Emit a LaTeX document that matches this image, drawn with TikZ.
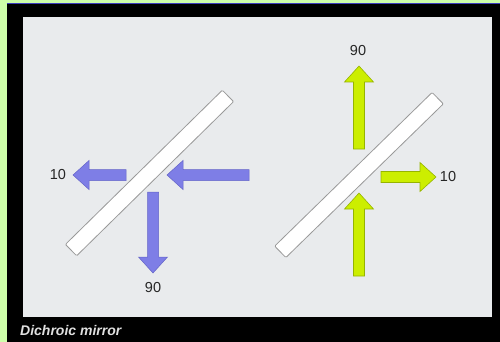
\documentclass[tikz,border=0pt]{standalone}
\usepackage{fontspec}
\setmainfont{Liberation Sans}
\usetikzlibrary{positioning}
\definecolor{framegreen}{RGB}{206,255,170}
\definecolor{topblue}{RGB}{60,60,190}
\definecolor{panelgray}{RGB}{233,235,237}
\definecolor{beamblue}{RGB}{126,126,230}
\definecolor{beamblueline}{RGB}{100,100,200}
\definecolor{beamgreen}{RGB}{204,238,0}
\definecolor{beamgreenline}{RGB}{150,180,0}
\newcommand{\fatarrow}[4]{% style, tail, angle, length
  \begin{scope}[shift={#2}, rotate=#3]
    \draw[#1] (0,-5.5) -- ({#4-16},-5.5) -- ({#4-16},-14.5) -- (#4,0)
      -- ({#4-16},14.5) -- ({#4-16},5.5) -- (0,5.5) -- cycle;
  \end{scope}}
\begin{document}
\begin{tikzpicture}[
    x=1pt, y=-1pt,
    mirror/.style={draw=gray!80, fill=white, line width=0.8pt, rectangle,
      rounded corners=1pt, minimum width=220pt, minimum height=16pt, inner sep=0pt},
    bluebeam/.style={fill=beamblue, draw=beamblueline, line width=0.5pt},
    greenbeam/.style={fill=beamgreen, draw=beamgreenline, line width=0.6pt},
    lbl/.style={font=\fontsize{14.5}{14.5}\selectfont, text=black!85, inner sep=1pt}
  ]
  \useasboundingbox (0,0) rectangle (500,342);
  % frame and panel
  \fill[framegreen] (0,0) rectangle (500,342);
  \fill[topblue] (7,3) rectangle (500,4.5);
  \fill[black] (7,4.5) rectangle (500,342);
  \fill[panelgray] (22.5,17) rectangle (492,317);
  \node[anchor=base west, inner sep=0pt, text=white!88!black,
    font=\fontsize{14}{14}\selectfont\bfseries\itshape] (caption) at (20,335) {Dichroic mirror};

  % left mirror
  \node[mirror, rotate=44.5] (mirrorL) at (149.5,173) {};
  \fatarrow{bluebeam}{(249,175)}{180}{82}
  \fatarrow{bluebeam}{(126,175)}{180}{53}
  \fatarrow{bluebeam}{(153,192)}{-90}{81}
  \node[lbl] (reflL) at (58,175) {10};
  \node[lbl] (transL) at (153,288) {90};

  % right mirror
  \node[mirror, rotate=44.3] (mirrorR) at (359,175) {};
  \fatarrow{greenbeam}{(359,276)}{90}{83}
  \fatarrow{greenbeam}{(359,149)}{90}{83}
  \fatarrow{greenbeam}{(381,177)}{0}{55}
  \node[lbl] (transR) at (358,51) {90};
  \node[lbl] (reflR) at (448,177) {10};
\end{tikzpicture}
\end{document}
